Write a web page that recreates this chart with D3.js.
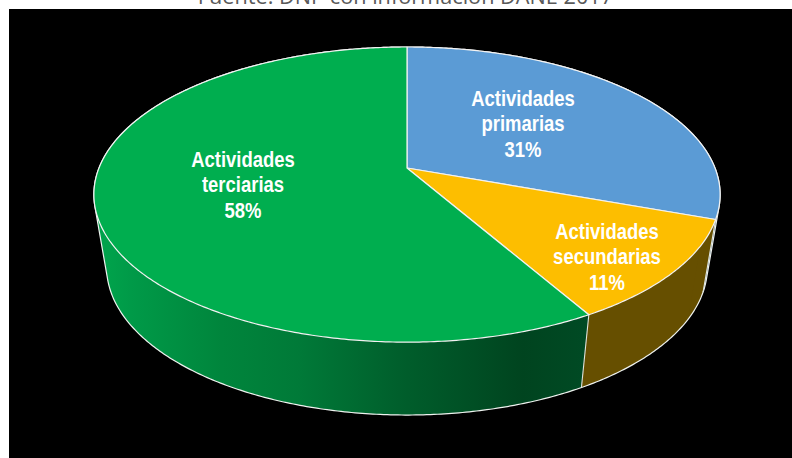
<!DOCTYPE html>
<html>
<head>
<meta charset="utf-8">
<script src="https://cdn.jsdelivr.net/npm/d3@7/dist/d3.min.js"></script>
<style>
  html, body { margin: 0; padding: 0; background: #fff; overflow: hidden; }
  svg { display: block; }
</style>
</head>
<body>
<div id="chart"></div>
<script>
// datos
const titulo = "Fuente: DNP con información DANE 2017";
const categorias = ["Actividades primarias", "Actividades secundarias", "Actividades terciarias"];
const valores = [30.5, 11.2, 58.3];
const lineas = [["Actividades", "primarias"], ["Actividades", "secundarias"], ["Actividades", "terciarias"]];
const coloresTapa = ["#5b9bd5", "#fdbe00", "#00ae4f"];
const coloresLado = ["#2f4f6d", "#664f00", "url(#ladoVerde)"];

const width = 792, height = 458;

const svg = d3.select("#chart").append("svg")
  .attr("width", width)
  .attr("height", height);

// Gradiente del lado verde
const grad = svg.append("defs").append("linearGradient")
  .attr("id", "ladoVerde")
  .attr("gradientUnits", "userSpaceOnUse")
  .attr("x1", 107).attr("x2", 585).attr("y1", 0).attr("y2", 0);
[[0, "#00a24b"], [0.05, "#009a48"], [0.24, "#00853c"], [0.4, "#007a38"], [0.61, "#005f2c"], [0.87, "#00441f"], [1, "#004a24"]]
  .forEach((s) => grad.append("stop").attr("offset", s[0]).attr("stop-color", s[1]));

// Fondo
svg.append("rect").attr("x", 9).attr("y", 9)
  .attr("width", width - 9).attr("height", height - 9)
  .attr("fill", "#000");

svg.append("text")
  .attr("x", 405.5).attr("y", 3.5)
  .attr("text-anchor", "middle")
  .attr("font-family", "'Open Sans', sans-serif")
  .attr("font-size", 21.7)
  .attr("fill", "#595959")
  .text(titulo);

// Proyección en perspectiva del disco (tapa y base)
const cx = 407, k = 0.18;
const discoTapa = { y0: 168, A: 308, B: 142.8 };
const discoBase = { y0: 240.4, A: 295.5, B: 143.2 };

function proyecta(d, ang) {
  const u = Math.sin(ang), v = -Math.cos(ang), w = 1 - k * v;
  return [cx + (d.A * u) / w, d.y0 + (d.B * v) / w];
}
const tapa = (a) => proyecta(discoTapa, a);
const base = (a) => proyecta(discoBase, a);

const pie = d3.pie().sort(null);
const arcos = pie(valores);
const linea = d3.line();

function muestras(a0, a1) {
  const n = Math.ceil((a1 - a0) / 0.01);
  return d3.range(0, n + 1).map((i) => a0 + ((a1 - a0) * i) / n);
}

// Zonas de las tangentes laterales (derecha e izquierda)
const zonas = [[Math.PI / 3, (2 * Math.PI) / 3], [(4 * Math.PI) / 3, (5 * Math.PI) / 3]];

// Lados
const lados = svg.append("g");
[2, 0, 1].forEach((i) => {
  const a0 = arcos[i].startAngle, a1 = arcos[i].endAngle;
  const angs = muestras(a0, a1);
  lados.append("path")
    .attr("d", linea(angs.map(tapa).concat(angs.slice().reverse().map(base))) + "Z")
    .attr("fill", coloresLado[i]);
  zonas.forEach((z) => {
    const ini = Math.max(a0, z[0]), fin = Math.min(a1, z[1]);
    if (fin <= ini) return;
    const tramo = muestras(ini, fin);
    lados.append("path")
      .attr("d", linea(d3.polygonHull(tramo.map(tapa).concat(tramo.map(base)))) + "Z")
      .attr("fill", coloresLado[i]);
  });
});

// Contorno exterior y aristas entre porciones
const todos = muestras(0, 2 * Math.PI);
const contorno = d3.polygonHull(todos.map(tapa).concat(todos.map(base)));
svg.append("path")
  .attr("d", linea(contorno) + "Z")
  .attr("fill", "none")
  .attr("stroke", "#eef2ef")
  .attr("stroke-width", 1.2);
arcos.slice(0, 2).forEach((d) => {
  svg.append("path")
    .attr("d", linea([tapa(d.endAngle), base(d.endAngle)]))
    .attr("stroke", "#dfe5e0")
    .attr("stroke-width", 1.1);
});

// Tapa
const tapas = svg.append("g");
arcos.forEach((d, i) => {
  const puntos = [[cx, discoTapa.y0]].concat(muestras(d.startAngle, d.endAngle).map(tapa));
  tapas.append("path")
    .attr("d", linea(puntos) + "Z")
    .attr("fill", coloresTapa[i])
    .attr("stroke", "#f2f2f2")
    .attr("stroke-width", 1.2)
    .attr("stroke-linejoin", "round");
});

// Etiquetas
const posEtiquetas = [[523, 106], [607, 239], [243, 167]];
arcos.forEach((d, i) => {
  const filas = lineas[i].concat(Math.round(valores[i]) + "%");
  const g = svg.append("g")
    .attr("transform", `translate(${posEtiquetas[i][0]},${posEtiquetas[i][1]}) scale(0.84,1)`);
  g.selectAll("text").data(filas).enter().append("text")
    .attr("x", 0)
    .attr("y", (t, j) => j * 25.5)
    .attr("text-anchor", "middle")
    .attr("font-family", "'Liberation Sans', Arial, sans-serif")
    .attr("font-weight", "bold")
    .attr("font-size", 22)
    .attr("fill", "#fff")
    .text((t) => t);
});
</script>
</body>
</html>
